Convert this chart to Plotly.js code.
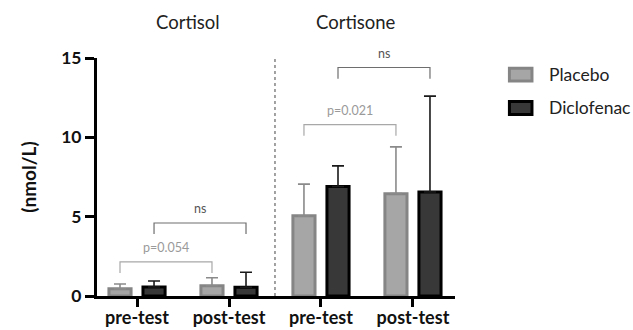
<!DOCTYPE html>
<html>
<head>
<meta charset="utf-8">
<script src="https://cdn.plot.ly/plotly-3.0.1.min.js"></script>
<style>html,body{margin:0;padding:0;background:#fff;}#chart{width:633px;height:330px;}</style>
</head>
<body>
<div id="chart"></div>
<script>
// ---- data ----
const groups = ['pre-test', 'post-test', 'pre-test', 'post-test'];
const hormones = ['Cortisol', 'Cortisone'];
const seriesNames = ['Placebo', 'Diclofenac'];
const placeboMean = [0.45, 0.65, 5.05, 6.45];
const placeboSD = [0.31, 0.50, 2.00, 2.95];
const diclofenacMean = [0.57, 0.55, 6.90, 6.55];
const diclofenacSD = [0.38, 0.95, 1.30, 6.05];
// comparisons between pre-test and post-test
const compLabels = ['ns', 'p=0.054', 'ns', 'p=0.021'];
const compSeries = [1, 0, 1, 0];        // 0 = Placebo, 1 = Diclofenac
const compFrom = [0, 0, 2, 2];          // group index
const compTo = [1, 1, 3, 3];
const compY = [4.6, 2.15, 14.4, 10.8];  // bracket height (nmol/L)
const compDrop = 0.7;

// ---- styles ----
const FONT = 'Lato, "Open Sans", sans-serif';
const bargap = 0.26;
const fills = ['#a6a6a6', '#383838'];
const borders = ['#858585', '#000000'];
const errColors = ['#8a8a8a', '#1a1a1a'];
const compColors = ['#a8a8a8', '#6e6e6e'];
const compTextColors = ['#9a9a9a', '#555555'];
const xs = groups.map((g, i) => i);
const offset = (1 - bargap) / 4;

const means = [placeboMean, diclofenacMean];
const sds = [placeboSD, diclofenacSD];
const traces = seriesNames.map((name, s) => ({
  type: 'bar', name: name, x: xs, y: means[s],
  marker: {color: fills[s], line: {color: borders[s], width: 3}},
  error_y: {type: 'data', symmetric: false, array: sds[s], arrayminus: sds[s].map(() => 0),
            color: errColors[s], thickness: 1.6, width: 6},
  showlegend: false, cliponaxis: false
}));

const shapes = [];
const annotations = [];
// separator between hormones
shapes.push({type: 'line', xref: 'x', yref: 'y', x0: 1.5, x1: 1.5, y0: 0, y1: 15,
  line: {color: '#444', width: 1, dash: 'dot'}});
// hormone titles
const titleX = [0.55, 2.38];
hormones.forEach((h, i) => annotations.push({text: h, xref: 'x', yref: 'paper', x: titleX[i], y: 1.15,
  yanchor: 'middle', showarrow: false, font: {family: FONT, size: 18.5, color: '#222'}}));
// brackets
compLabels.forEach((lab, k) => {
  const s = compSeries[k];
  const off = s === 0 ? -offset : offset;
  const xa = compFrom[k] + off, xb = compTo[k] + off, yy = compY[k];
  const col = compColors[s];
  shapes.push({type: 'path', xref: 'x', yref: 'y',
    path: `M${xa},${yy - compDrop} L${xa},${yy} L${xb},${yy} L${xb},${yy - compDrop}`,
    line: {color: col, width: 1.2}});
  annotations.push({text: lab, xref: 'x', yref: 'y', x: (xa + xb) / 2, y: yy, yanchor: 'bottom', yshift: 5,
    showarrow: false, font: {family: FONT, size: 12.5, color: compTextColors[s]}});
});
// legend (custom, matching the wide swatches)
const legY = [0.93, 0.79];
seriesNames.forEach((n, s) => {
  shapes.push({type: 'rect', xref: 'paper', yref: 'paper', x0: 1.152, x1: 1.215,
    y0: legY[s] - 0.027, y1: legY[s] + 0.027, fillcolor: fills[s], line: {color: borders[s], width: 3}});
  annotations.push({text: n, xref: 'paper', yref: 'paper', x: 1.258, y: legY[s], xanchor: 'left', yanchor: 'middle',
    showarrow: false, font: {family: FONT, size: 17.5, color: '#222'}});
});

const layout = {
  width: 633, height: 330,
  margin: {l: 97, r: 178, t: 58, b: 34},
  paper_bgcolor: '#fff', plot_bgcolor: '#fff',
  barmode: 'group', bargap: bargap, bargroupgap: 0.35,
  font: {family: FONT, color: '#111'},
  xaxis: {range: [-0.435, 3.457], tickvals: xs, ticktext: groups, showgrid: false, zeroline: false,
    showline: true, linecolor: '#000', linewidth: 3, ticks: 'outside', ticklen: 8, tickwidth: 3, tickcolor: '#000',
    ticklabelstandoff: -5,
    tickfont: {family: FONT, size: 18, color: '#111', weight: 'bold'}},
  yaxis: {range: [0, 15], tickvals: [0, 5, 10, 15], showgrid: false, zeroline: false,
    showline: true, linecolor: '#000', linewidth: 3, ticks: 'outside', ticklen: 9, tickwidth: 3, tickcolor: '#000',
    tickfont: {family: FONT, size: 17.5, color: '#111', weight: 'bold'},
    title: {text: '(nmol/L)', standoff: 20, font: {family: FONT, size: 19, color: '#111', weight: 'bold'}}},
  shapes: shapes, annotations: annotations, showlegend: false
};
Plotly.newPlot('chart', traces, layout, {staticPlot: true});
</script>
</body>
</html>
